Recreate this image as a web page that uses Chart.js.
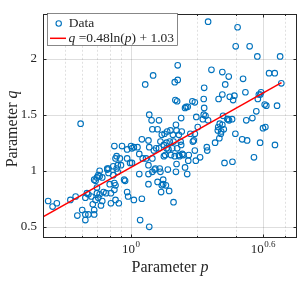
<!DOCTYPE html>
<html><head><meta charset="utf-8">
<script src="https://cdn.jsdelivr.net/npm/chart.js@4/dist/chart.umd.min.js"></script>
<style>html,body{margin:0;padding:0;background:#fff;}#wrap{width:305px;height:282px;}</style>
</head><body><div id="wrap"><canvas id="c" width="305" height="282"></canvas></div>
<script>
// ---- data ----
const pValues = [
0.42,0.44,0.46,0.53,0.56,0.57,0.59,0.60,0.62,0.62,
0.63,0.62,0.64,0.64,0.66,0.67,0.68,0.68,0.68,0.69,
0.70,0.71,0.72,0.72,0.70,0.70,0.71,0.69,0.72,0.73,
0.74,0.74,0.75,0.77,0.78,0.78,0.79,0.79,0.80,0.81,
0.81,0.83,0.83,0.84,0.84,0.85,0.85,0.84,0.85,0.86,
0.86,0.87,0.87,0.88,0.89,0.90,0.91,0.93,0.94,0.96,
0.96,0.96,0.97,0.99,1.00,1.01,1.01,1.03,1.03,1.07,
1.09,1.09,1.10,1.12,1.12,1.13,1.16,1.17,1.20,1.20,
1.20,1.20,1.21,1.21,1.21,1.24,1.25,1.25,1.25,1.26,
1.27,1.28,1.29,1.30,1.32,1.32,1.34,1.34,1.35,1.36,
1.36,1.37,1.38,1.38,1.40,1.40,1.41,1.41,1.42,1.43,
1.44,1.45,1.45,1.46,1.47,1.48,1.49,1.50,1.51,1.52,
1.54,1.55,1.56,1.56,1.58,1.58,1.59,1.60,1.60,1.61,
1.61,1.62,1.62,1.63,1.63,1.65,1.65,1.66,1.69,1.68,
1.69,1.70,1.71,1.73,1.76,1.76,1.78,1.80,1.81,1.82,
1.83,1.86,1.90,1.91,1.93,1.95,1.95,1.95,1.97,1.98,
2.01,2.06,2.12,2.14,2.14,2.15,2.15,2.18,2.21,2.22,
2.24,2.24,2.32,2.41,2.48,2.49,2.50,2.52,2.53,2.56,
2.57,2.60,2.60,2.60,2.62,2.64,2.66,2.68,2.74,2.76,
2.78,2.79,2.81,2.88,2.89,2.91,2.95,2.98,2.99,3.05,
3.20,3.23,3.31,3.34,3.37,3.46,3.56,3.62,3.71,3.75,
3.77,3.81,3.86,3.87,3.90,3.98,4.05,4.08,4.12,4.24,
4.50,4.51,4.61,4.76,4.82];
const qValues = [
0.73,0.68,0.71,0.74,0.77,0.60,1.42,0.65,0.56,0.61,
0.80,0.76,0.61,0.79,0.77,0.70,0.65,0.61,0.92,0.91,
0.94,0.96,1.00,0.95,0.85,0.80,0.76,0.74,0.79,0.69,
0.73,0.94,0.81,0.80,1.01,1.02,0.98,1.02,0.88,0.71,
0.80,1.04,0.96,0.89,0.83,0.87,1.11,1.22,0.74,1.13,
1.02,0.99,1.05,0.71,1.11,1.05,1.22,0.92,0.91,1.19,
1.11,0.81,0.77,1.07,1.22,1.07,1.20,0.74,1.21,1.21,
1.15,0.97,0.56,1.28,0.75,1.11,1.77,1.11,0.97,0.88,
1.05,1.27,0.50,1.50,1.21,1.45,1.11,1.37,0.99,1.85,
1.18,1.01,1.02,1.20,1.37,0.90,1.20,1.45,1.02,0.99,
1.26,0.81,0.87,1.32,0.92,0.88,1.23,1.13,1.33,1.14,
0.87,1.20,1.25,1.35,1.01,1.19,0.82,1.26,1.36,1.14,
1.20,1.32,0.72,1.26,1.79,1.13,1.63,0.99,1.41,1.36,
1.06,1.62,1.20,1.94,1.81,1.32,1.14,1.13,1.47,1.26,
1.23,1.35,1.15,1.14,1.56,1.03,1.57,0.97,1.57,1.09,
1.14,1.33,1.62,1.26,1.27,1.18,1.33,1.61,1.09,1.48,
1.39,1.12,1.46,1.50,1.64,1.74,1.56,1.49,1.21,1.18,
2.33,1.45,1.90,1.25,1.36,1.39,1.64,1.29,1.42,1.33,
1.35,1.88,1.41,1.68,1.49,1.37,1.07,1.77,1.46,1.46,
1.84,1.45,1.66,1.46,1.08,1.63,1.67,1.33,2.11,2.28,
1.28,1.82,1.70,1.45,1.27,2.11,1.47,1.12,1.53,2.02,
1.64,1.68,1.25,1.68,1.70,1.38,1.59,1.39,1.58,1.87,
1.87,1.23,1.58,2.02,1.78];
const fitSlope = 0.48;
const fitIntercept = 1.03;
const fitPRange = [0.398, 4.83];
const xMajorTicks = [1, 3.981];
const xTickLabels = [["10","0"],["10","0.6"]];
const xMinorTicks = [0.4,0.5,0.6,0.7,0.8,0.9,2,3,5];
const yTicks = [0.5,1,1.5,2];
const xRange = [0.398, 5.68];
const yRange = [0.4, 2.4];
const legendLabels = ["Data", [["q","italic"],[" =0.48ln(",""],["p","italic"],[") + 1.03",""]]];
const xTitle = [["Parameter ",""],["p","italic"]];
const yTitle = [["Parameter ",""],["q","italic"]];

// ---- drawing ----
const SERIF = '"Liberation Serif","DejaVu Serif",serif';
const AX = '#262626';
const BLUE = '#0072BD';
const RED = '#FF0000';

const scatterData = pValues.map((p,i)=>({x:p, y:qValues[i]}));
const fitData = fitPRange.map(p=>({x:p, y:fitSlope*Math.log(p)+fitIntercept}));

function partsWidth(ctx, parts, size){
  let w=0;
  parts.forEach(([t,st])=>{ctx.font=(st?st+' ':'')+size+'px '+SERIF; w+=ctx.measureText(t).width;});
  return w;
}
function drawParts(ctx, parts, x, y, size){
  parts.forEach(([t,st])=>{ctx.font=(st?st+' ':'')+size+'px '+SERIF; ctx.fillText(t,x,y); x+=ctx.measureText(t).width;});
}

const deco = {
  id:'deco',
  beforeDatasetsDraw(chart){
    const {ctx, chartArea:a, scales:{x,y}} = chart;
    ctx.save();
    ctx.lineWidth = 1;
    ctx.strokeStyle = 'rgba(0,0,0,0.12)';
    ctx.setLineDash([2,2]);
    xMinorTicks.forEach(v=>{
      const px = Math.round(x.getPixelForValue(v))+0.5;
      ctx.beginPath(); ctx.moveTo(px,a.top); ctx.lineTo(px,a.bottom); ctx.stroke();
    });
    ctx.setLineDash([]);
    ctx.strokeStyle = 'rgba(0,0,0,0.13)';
    xMajorTicks.forEach(v=>{
      const px = Math.round(x.getPixelForValue(v))+0.5;
      ctx.beginPath(); ctx.moveTo(px,a.top); ctx.lineTo(px,a.bottom); ctx.stroke();
    });
    yTicks.forEach(v=>{
      const py = Math.round(y.getPixelForValue(v))+0.5;
      ctx.beginPath(); ctx.moveTo(a.left,py); ctx.lineTo(a.right,py); ctx.stroke();
    });
    ctx.restore();
  },
  afterDraw(chart){
    const {ctx, chartArea:a, scales:{x,y}} = chart;
    ctx.save();
    // box
    ctx.strokeStyle = AX; ctx.lineWidth = 1;
    const L=Math.round(a.left)+0.5, R=Math.round(a.right)-0.5, T=Math.round(a.top)+0.5, B=Math.round(a.bottom)-0.5;
    ctx.strokeRect(L,T,R-L,B-T);
    // ticks
    ctx.beginPath();
    yTicks.forEach(v=>{
      const py = Math.round(y.getPixelForValue(v))+0.5;
      ctx.moveTo(L,py); ctx.lineTo(L+3,py); ctx.moveTo(R,py); ctx.lineTo(R-3,py);
    });
    xMajorTicks.forEach(v=>{
      const px = Math.round(x.getPixelForValue(v))+0.5;
      ctx.moveTo(px,B); ctx.lineTo(px,B-3); ctx.moveTo(px,T); ctx.lineTo(px,T+3);
    });
    xMinorTicks.forEach(v=>{
      const px = Math.round(x.getPixelForValue(v))+0.5;
      ctx.moveTo(px,B); ctx.lineTo(px,B-1.5); ctx.moveTo(px,T); ctx.lineTo(px,T+1.5);
    });
    ctx.stroke();
    // x tick labels (10^k)
    ctx.fillStyle = AX; ctx.textAlign='left'; ctx.textBaseline='alphabetic';
    xMajorTicks.forEach((v,i)=>{
      const [b,e] = xTickLabels[i];
      ctx.font='13px '+SERIF; const wb=ctx.measureText(b).width;
      ctx.font='9px '+SERIF; const we=ctx.measureText(e).width;
      const px = x.getPixelForValue(v);
      const sx = px-(wb+we+0.5)/2;
      ctx.font='13px '+SERIF; ctx.fillText(b,sx,253);
      ctx.font='9px '+SERIF; ctx.fillText(e,sx+wb+0.5,247);
    });
    // axis titles
    const cx = (a.left+a.right)/2;
    let w = partsWidth(ctx,xTitle,16);
    drawParts(ctx,xTitle,cx-w/2,272,16);
    ctx.save();
    ctx.translate(17,(a.top+a.bottom)/2+3);
    ctx.rotate(-Math.PI/2);
    w = partsWidth(ctx,yTitle,16);
    drawParts(ctx,yTitle,-w/2,0,16);
    ctx.restore();
    // legend
    const lx=47.5, ly=13.5;
    const lw = 68.5 + partsWidth(ctx,legendLabels[1],13.5) + 3.5 - lx;
    ctx.fillStyle='#fff'; ctx.fillRect(lx,ly,lw,32);
    ctx.strokeStyle='#555'; ctx.lineWidth=0.7; ctx.strokeRect(lx,ly,lw,32);
    ctx.strokeStyle=BLUE; ctx.lineWidth=1.1;
    ctx.beginPath(); ctx.arc(58.7,23.5,2.7,0,Math.PI*2); ctx.stroke();
    ctx.strokeStyle=RED; ctx.lineWidth=1.5;
    ctx.beginPath(); ctx.moveTo(50,38.3); ctx.lineTo(66,38.3); ctx.stroke();
    ctx.fillStyle=AX; ctx.textBaseline='middle';
    ctx.font='13.5px '+SERIF; ctx.fillText(legendLabels[0],68.7,23.5);
    drawParts(ctx,legendLabels[1],68.5,38.5,13.5);
    ctx.restore();
  }
};

new Chart(document.getElementById('c'), {
  type:'scatter',
  data:{datasets:[
    {type:'line', label:'fit', data:fitData, borderColor:RED, borderWidth:1.5, pointRadius:0, fill:false, order:0},
    {label:'Data', data:scatterData, showLine:false, pointStyle:'circle', pointRadius:2.8, pointBorderWidth:1.1,
     borderColor:BLUE, backgroundColor:'rgba(0,0,0,0)', pointBackgroundColor:'rgba(0,0,0,0)', order:1}
  ]},
  options:{
    responsive:false, animation:false, devicePixelRatio:1,
    layout:{padding:{left:0,right:8,top:10,bottom:0}},
    plugins:{legend:{display:false}, tooltip:{enabled:false}},
    scales:{
      x:{type:'logarithmic', min:xRange[0], max:xRange[1],
         afterBuildTicks(s){ s.ticks = [...xMinorTicks,...xMajorTicks].sort((a,b)=>a-b).map(v=>({value:v})); },
         ticks:{display:false}, grid:{display:false}, border:{display:false},
         afterFit(s){ s.height = 44; }},
      y:{type:'linear', min:yRange[0], max:yRange[1],
         afterBuildTicks(s){ s.ticks = yTicks.map(v=>({value:v})); },
         ticks:{color:AX, padding:6, font:{family:SERIF, size:13}, callback:v=>String(v)},
         grid:{display:false, drawTicks:false}, border:{display:false},
         afterFit(s){ s.width = 43; }}
    }
  },
  plugins:[deco]
});
</script></body></html>
